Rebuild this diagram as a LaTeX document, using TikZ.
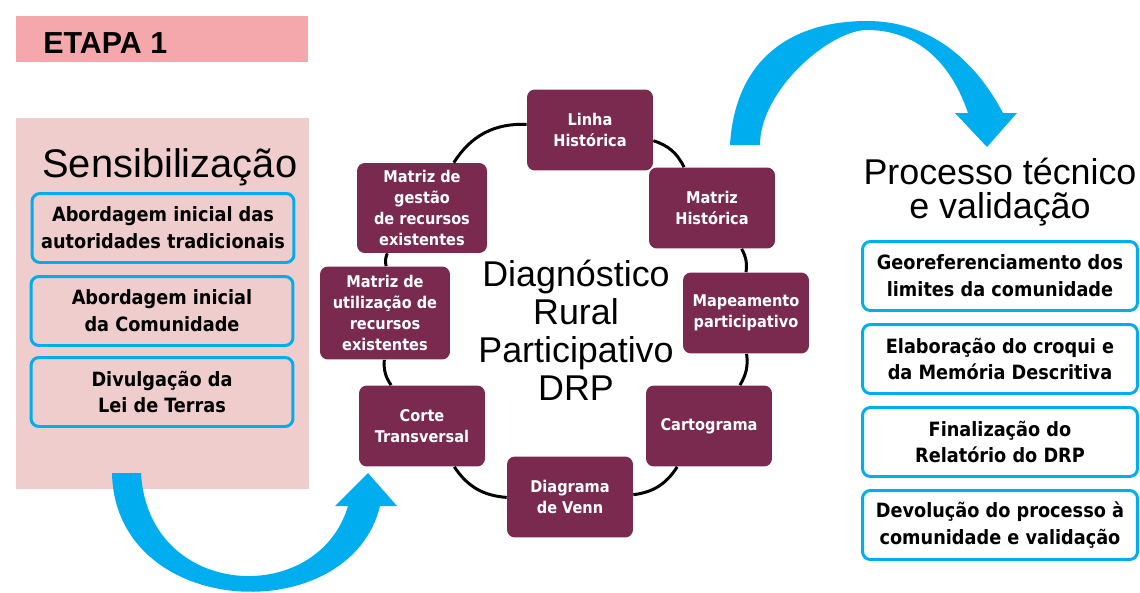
\documentclass[tikz,border=0pt]{standalone}
\usepackage{fontspec}
\setmainfont{Liberation Sans}
\newfontfamily\condfont{DejaVu Sans Condensed}
\usepackage{tikz}
\definecolor{drpmaroon}{RGB}{122,42,78}
\definecolor{etapapink}{RGB}{245,168,171}
\definecolor{panelpink}{RGB}{240,205,205}
\definecolor{arrowblue}{RGB}{0,174,239}
\tikzset{
  drpbox/.style={fill=drpmaroon, rounded corners=4.5pt, text=white, align=center,
    minimum width=2.52cm, minimum height=1.62cm, inner sep=2pt,
    font=\condfont\bfseries\fontsize{9.2}{11.8}\selectfont},
  bluebox/.style={draw=arrowblue, line width=1.7pt, rounded corners=4.5pt, align=center,
    minimum width=5.24cm, minimum height=1.38cm, inner sep=2pt,
    font=\condfont\bfseries\fontsize{11.2}{15.3}\selectfont},
  ringline/.style={line width=1.7pt, black},
}

\begin{document}
\begin{tikzpicture}[x=0.02cm, y=-0.02cm]
	\useasboundingbox (0,0) rectangle (1140,592);
	% header and left panel - must be drawn before the rest!
	\fill[etapapink] (16,16) rectangle (308,62);
	\node[anchor=base west, inner sep=0, font=\bfseries\fontsize{17.3}{20}\selectfont] (etapa) at (43,53) {ETAPA 1};
	\fill[panelpink] (16,118) rectangle (309,489);
	\node[anchor=base west, inner sep=0, font=\fontsize{22.7}{24}\selectfont] (sensi) at (42,177) {Sensibilização};
	% first steps
	\node[bluebox] (abord1) at (163,228) {Abordagem inicial das\\autoridades tradicionais};
	\node[bluebox] (abord2) at (162,311) {Abordagem inicial\\da Comunidade};
	\node[bluebox] (divulg) at (162,392) {Divulgação da\\Lei de Terras};
	% the lower arrow
	\fill[arrowblue] (112,473) .. controls (115,620) and (350,630) .. (380,506) -- (397,506) -- (368,473)
		-- (335,506) -- (348,506) .. controls (318,608) and (148,600) .. (141,473) -- cycle;
	% the ring of tools
	\node[align=center, inner sep=0, font=\fontsize{20.4}{21.7}\selectfont] (drp) at (576,330) {Diagnóstico\\Rural\\Participativo\\DRP};
	\node[drpbox] (linha) at (590,130) {Linha\\Histórica};
	\node[drpbox] (mhist) at (712,208) {Matriz\\Histórica};
	\node[drpbox] (mapea) at (746,313) {Mapeamento\\participativo};
	\node[drpbox] (carto) at (709,426) {Cartograma};
	\node[drpbox] (venn) at (570,497) {Diagrama\\de Venn};
	\node[drpbox] (corte) at (422,426) {Corte\\Transversal};
	\node[drpbox, minimum width=2.6cm, minimum height=1.86cm] (utiliz) at (385,313) {Matriz de\\utilização de\\recursos\\existentes};
	\node[drpbox, minimum width=2.6cm, minimum height=1.8cm] (gestao) at (422,208) {Matriz de\\gestão\\de recursos\\existentes};
	\draw[ringline] (linha) to[bend left=23] (mhist);
	\draw[ringline] (mhist) to[bend left=18] (mapea);
	\draw[ringline] (mapea) to[bend left=19] (carto);
	\draw[ringline] (carto) to[bend left=25] (venn);
	\draw[ringline] (venn) to[bend left=26] (corte);
	\draw[ringline] (corte) to[bend left=19] (utiliz);
	\draw[ringline] (utiliz) to[bend left=18] (gestao);
	\draw[ringline] (gestao) to[bend left=30] (linha);
	% the upper arrow
	\fill[arrowblue] (730,145) .. controls (735,60) and (790,21) .. (867,21) .. controls (930,21) and (975,60) .. (1003,113)
		-- (1017,113) -- (987,147) -- (955,113) -- (968,113) .. controls (950,60) and (915,30) .. (867,30)
		.. controls (830,30) and (760,90) .. (760,145) -- cycle;
	% technical process
	\node[align=center, inner sep=0, font=\fontsize{20.4}{19.3}\selectfont] (tecnico) at (1000,192) {Processo técnico\\e validação};
	\node[bluebox, minimum width=5.5cm] (georef) at (1000,276) {Georeferenciamento dos\\limites da comunidade};
	\node[bluebox, minimum width=5.5cm] (croqui) at (1000,359) {Elaboração do croqui e\\da Memória Descritiva};
	\node[bluebox, minimum width=5.5cm] (relat) at (1000,442) {Finalização do\\Relatório do DRP};
	\node[bluebox, minimum width=5.5cm] (devol) at (1000,525) {Devolução do processo à\\comunidade e validação};
\end{tikzpicture}
\end{document}
